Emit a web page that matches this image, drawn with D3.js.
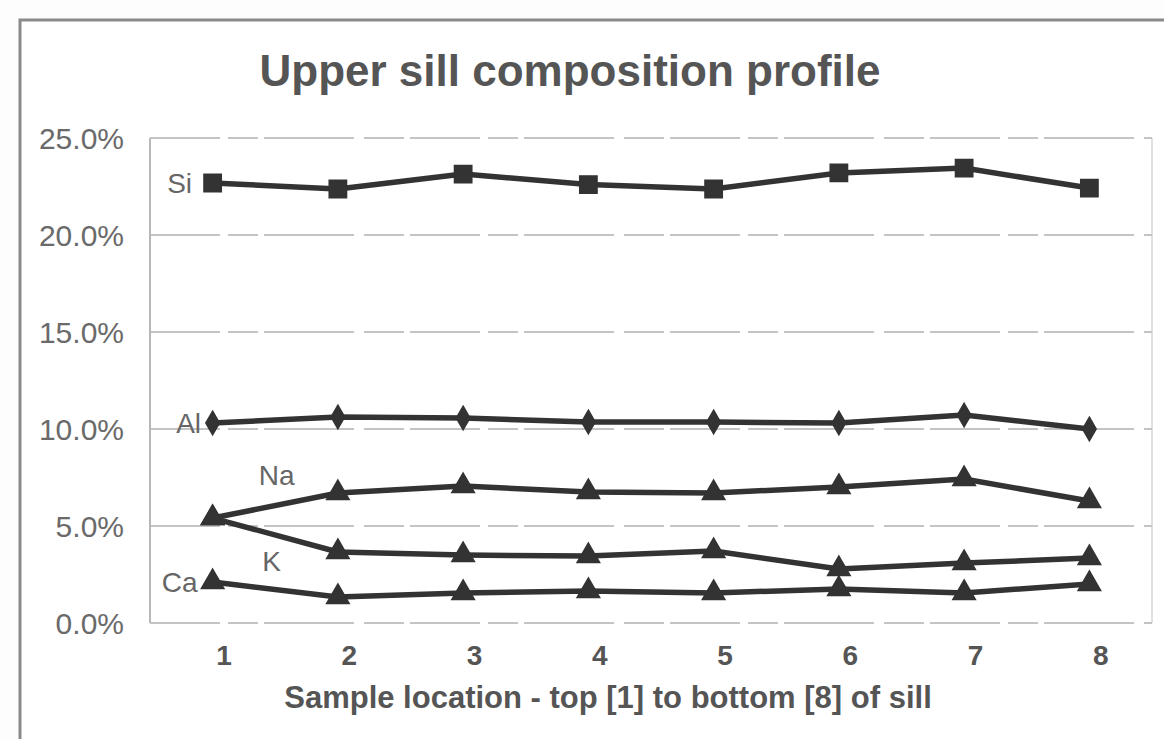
<!DOCTYPE html>
<html>
<head>
<meta charset="utf-8">
<script src="https://cdn.jsdelivr.net/npm/d3@7"></script>
<style>
  html, body { margin: 0; padding: 0; background: #fdfdfd; }
  svg { display: block; }
</style>
</head>
<body>
<script>
const samples = [1, 2, 3, 4, 5, 6, 7, 8];
const yTicks = [0, 0.05, 0.10, 0.15, 0.20, 0.25];
const si = [22.68, 22.37, 23.14, 22.6, 22.37, 23.2, 23.45, 22.42];
const al = [10.31, 10.62, 10.57, 10.36, 10.36, 10.31, 10.72, 10.0];
const na = [5.41, 6.70, 7.06, 6.75, 6.70, 7.01, 7.42, 6.29];
const k  = [5.41, 3.66, 3.50, 3.45, 3.71, 2.78, 3.09, 3.35];
const ca = [2.11, 1.34, 1.55, 1.65, 1.55, 1.75, 1.55, 2.01];
const seriesNames = ["Si", "Al", "Na", "K", "Ca"];
const seriesValues = [si, al, na, k, ca];
const seriesMarkers = ["square", "diamond", "triangle", "triangle", "triangle"];
const titleText = "Upper sill composition profile";
const xTitleText = "Sample location - top [1] to bottom [8] of sill";

(function () {
const W = 1164, H = 739;
const FONT = "Liberation Sans, Arial, sans-serif";
const svg = d3.select("body").append("svg").attr("width", W).attr("height", H);

svg.append("rect").attr("width", W).attr("height", H).attr("fill", "#fdfdfd");
svg.append("rect").attr("x", 21.5).attr("y", 21.5).attr("width", W).attr("height", H)
  .attr("fill", "#ffffff");
// outer frame (left + top)
svg.append("path").attr("d", `M20,${H} L20,20 L${W},20`)
  .attr("fill", "none").attr("stroke", "#8a8a8a").attr("stroke-width", 3);

const pLeft = 150, pRight = 1152, pTop = 138, pBottom = 623;
const x = d3.scalePoint().domain(samples).range([pLeft, pRight]).padding(0.5);
const y = d3.scaleLinear().domain([0, 0.25]).range([pBottom, pTop]);

// plot border (right side light)
svg.append("line").attr("x1", pRight).attr("x2", pRight).attr("y1", pTop).attr("y2", pBottom)
  .attr("stroke", "#d6d6d6").attr("stroke-width", 1.5);

// gridlines
svg.append("g").selectAll("line").data(yTicks).join("line")
  .attr("x1", pLeft).attr("x2", pRight)
  .attr("y1", d => y(d)).attr("y2", d => y(d))
  .attr("stroke", "#c4c4c4").attr("stroke-width", 2)
  .attr("stroke-dasharray", "70,8,30,6,90,10,40,6");

// left axis line
svg.append("line").attr("x1", pLeft).attr("x2", pLeft).attr("y1", pTop).attr("y2", pBottom)
  .attr("stroke", "#b8b8b8").attr("stroke-width", 2);

// y axis labels
const yAxis = d3.axisLeft(y).tickValues(yTicks).tickFormat(d3.format(".1%")).tickSize(0).tickPadding(26);
const gy = svg.append("g").attr("transform", `translate(${pLeft},0)`).call(yAxis);
gy.select(".domain").remove();
gy.selectAll("text").attr("font-family", FONT)
  .attr("font-size", 30).attr("fill", "#6a6a6a").attr("dy", "0.36em");

// x axis labels
const xAxis = d3.axisBottom(x).tickSize(0).tickPadding(22);
const gx = svg.append("g").attr("transform", `translate(11,${pBottom})`).call(xAxis);
gx.select(".domain").remove();
gx.selectAll("text").attr("font-family", FONT)
  .attr("font-size", 28).attr("font-weight", "bold").attr("fill", "#555");

// title
svg.append("text").attr("x", 570).attr("y", 86).attr("text-anchor", "middle")
  .attr("font-family", FONT).attr("font-weight", "bold")
  .attr("font-size", 44).attr("fill", "#555").text(titleText);

// x title
svg.append("text").attr("x", 608).attr("y", 708).attr("text-anchor", "middle")
  .attr("font-family", FONT).attr("font-weight", "bold")
  .attr("font-size", 31).attr("fill", "#555").text(xTitleText);

const lineColor = "#333333";
const line = d3.line().x((d, i) => x(samples[i])).y(d => y(d / 100));

const symbolFor = { square: d3.symbolSquare, diamond: d3.symbolDiamond, triangle: d3.symbolTriangle };
const sizeFor = { square: 300, diamond: 160, triangle: 220 };

seriesValues.forEach((vals, sIdx) => {
  svg.append("path").datum(vals).attr("d", line)
    .attr("fill", "none").attr("stroke", lineColor).attr("stroke-width", 5.5)
    .attr("stroke-linejoin", "round");
  const m = seriesMarkers[sIdx];
  svg.append("g").selectAll("path").data(vals).join("path")
    .attr("transform", (d, i) => `translate(${x(samples[i])},${y(d / 100)})`)
    .attr("d", d3.symbol().type(symbolFor[m]).size(sizeFor[m]))
    .attr("fill", lineColor).attr("stroke", lineColor).attr("stroke-width", 1.5);
});

// series labels
const labelOffsets = { Si: [-33, 0], Al: [-24, 0], Na: [64, -43], K: [59, 43], Ca: [-33, 0] };
seriesNames.forEach((name, i) => {
  const vals = seriesValues[i];
  const o = labelOffsets[name];
  svg.append("text")
    .attr("x", x(samples[0]) + o[0]).attr("y", y(vals[0] / 100) + o[1])
    .attr("dy", "0.36em").attr("text-anchor", "middle")
    .attr("font-family", FONT)
    .attr("font-size", 28).attr("fill", "#666").text(name);
});
})();
</script>
</body>
</html>
